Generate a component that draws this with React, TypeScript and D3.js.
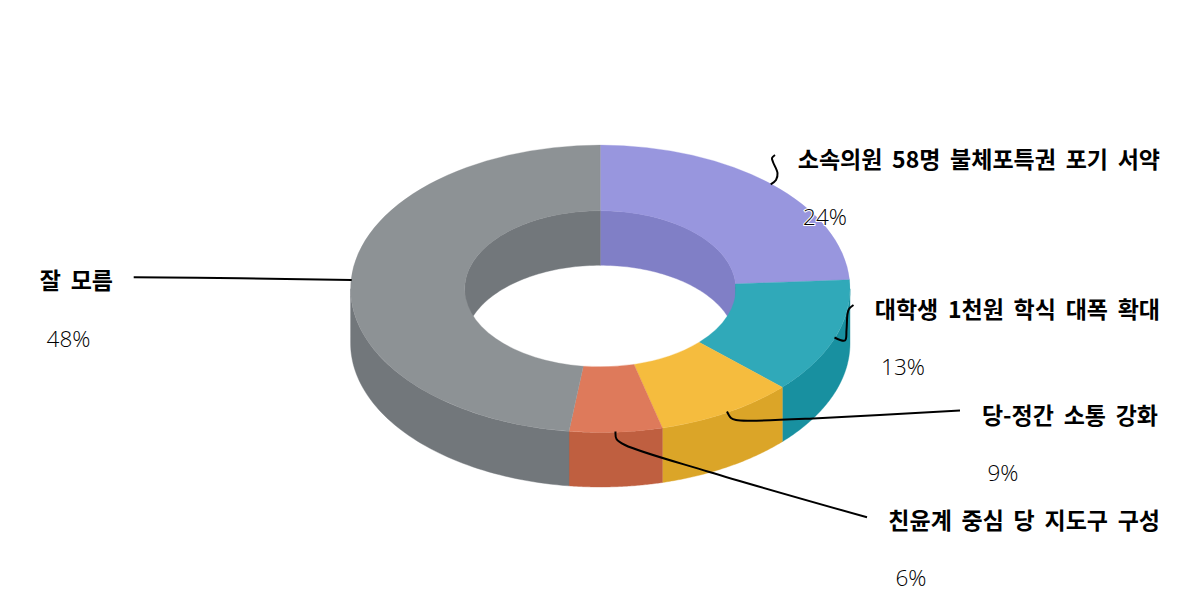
import React from "react";
import * as d3 from "d3";

const categories = ["소속의원 58명 불체포특권 포기 서약", "대학생 1천원 학식 대폭 확대", "당-정간 소통 강화", "친윤계 중심 당 지도구 구성", "잘 모름"];
const values = [24, 13, 9, 6, 48];
const topColors = ["#9896DE", "#30A9B9", "#F5BC3E", "#DE7A5B", "#8D9295"];
const sideColors = ["#807FC6", "#1890A0", "#DBA528", "#BF5F40", "#72777B"];

const W = 1200, H = 600;
const cx = 600.3, cy = 288.8, rx = 249.7, ry = 143.7, irx = 135.6, iry = 78, depth = 54.5;
const yScale = ry / rx;

const labelPos = [
  { x: 1160, y: 158, px: 825, py: 216 },
  { x: 1160, y: 308, px: 903, py: 366 },
  { x: 1158, y: 414, px: 1003, py: 472 },
  { x: 1160, y: 519, px: 911, py: 577 },
  { x: 113, y: 279, px: 68.5, py: 338 },
];
const leaders: [number, number][][] = [
  [[770.7, 184.3], [776, 180], [777.5, 173], [773, 162], [772, 158], [775, 155]],
  [[834.5, 337.5], [845, 340.5], [846.5, 330], [847.5, 314], [849, 309], [853.5, 305]],
  [[727, 411.5], [731, 418], [736, 420], [750, 420.7], [813, 418.5], [960, 410.5]],
  [[615.5, 431.5], [616.5, 439], [625, 445], [708.5, 471.7], [867, 517.3]],
  [[133.7, 277.3], [240, 278.2], [351.7, 280]],
];

const pie = d3.pie<number>().sort(null).startAngle(0).endAngle(2 * Math.PI);
const arc = d3.arc<d3.PieArcDatum<number>>().innerRadius(irx).outerRadius(rx);
const ringLine = d3.line();
const leaderLine = d3.line().curve(d3.curveCatmullRom.alpha(0.5));

function wall(a: number, b: number, radX: number, radY: number) {
  const ang = d3.range(0, 61).map((i) => a + ((b - a) * i) / 60);
  const top = ang.map((t) => [cx + radX * Math.sin(t), cy - radY * Math.cos(t)] as [number, number]);
  const bottom = top.map(([x, y]) => [x, y + depth] as [number, number]).reverse();
  return ringLine([...top, ...bottom]) + "Z";
}
function clip(a: number, b: number, lo: number, hi: number): [number, number] | null {
  const s = Math.max(a, lo), e = Math.min(b, hi);
  return e > s ? [s, e] : null;
}

export default function App() {
  const arcs = pie(values);
  const PI = Math.PI;
  const font = "'Noto Sans CJK KR', 'Open Sans', sans-serif";
  return (
    <svg width={W} height={H} style={{ position: "absolute", left: 0, top: 0, background: "#fff" }}>
      {arcs.map((d, i) => {
        const front = clip(d.startAngle, d.endAngle, PI / 2, (3 * PI) / 2);
        return front ? <path key={i} d={wall(front[0], front[1], rx, ry)} fill={sideColors[i]} stroke={sideColors[i]} strokeWidth={0.4} /> : null;
      })}
      {arcs.map((d, i) => {
        const parts = [clip(d.startAngle, d.endAngle, 0, PI / 2), clip(d.startAngle, d.endAngle, (3 * PI) / 2, 2 * PI)];
        return parts.map((p, j) => (p ? <path key={`${i}-${j}`} d={wall(p[0], p[1], irx, iry)} fill={sideColors[i]} stroke={sideColors[i]} strokeWidth={0.4} /> : null));
      })}
      <g transform={`translate(${cx},${cy}) scale(1,${yScale})`}>
        {arcs.map((d, i) => (
          <path key={i} d={arc(d) as string} fill={topColors[i]} stroke={topColors[i]} strokeWidth={0.4} />
        ))}
      </g>
      {leaders.map((pts, i) => (
        <path key={i} d={leaderLine(pts) as string} fill="none" stroke="#000" strokeWidth={2} />
      ))}
      {categories.map((c, i) => (
        <g key={c} fontFamily={font} fontSize={23}>
          <text x={labelPos[i].x} y={labelPos[i].y} textAnchor="end" dominantBaseline="central" fontWeight={700} fill="#000" wordSpacing={4.5} stroke="#fff" strokeWidth={2} paintOrder="stroke">
            {c}
          </text>
          <text x={labelPos[i].px} y={labelPos[i].py} textAnchor="middle" dominantBaseline="central" fontWeight={300} fill="#000" stroke={i === 0 ? "#fff" : "none"} strokeWidth={2} paintOrder="stroke" fontFamily="'Open Sans', sans-serif" fontSize={22.5}>
            {values[i]}%
          </text>
        </g>
      ))}
    </svg>
  );
}
